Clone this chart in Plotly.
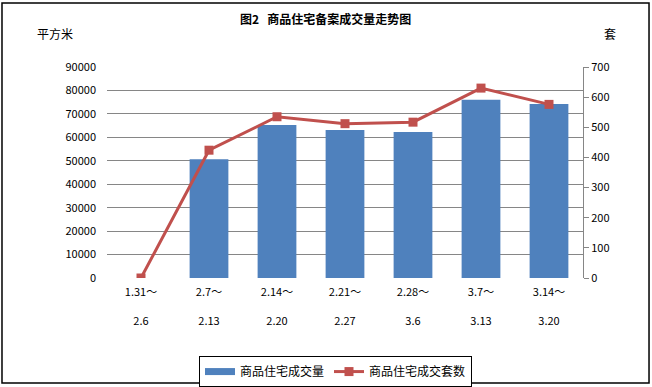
import plotly.graph_objects as go

categories = ["1.31～<br><br>2.6", "2.7～<br><br>2.13", "2.14～<br><br>2.20", "2.21～<br><br>2.27",
              "2.28～<br><br>3.6", "3.7～<br><br>3.13", "3.14～<br><br>3.20"]
area_values = [0, 50700, 65300, 63100, 62300, 76000, 74200]
units_values = [0, 424, 535, 512, 517, 630, 576]
left_ticks = [0, 10000, 20000, 30000, 40000, 50000, 60000, 70000, 80000, 90000]
right_ticks = [0, 100, 200, 300, 400, 500, 600, 700]

FONT = "SimSun, 'Noto Sans CJK SC', sans-serif"
BLUE = "#4F81BD"
RED = "#C0504D"

fig = go.Figure()
fig.add_trace(go.Bar(x=categories, y=area_values, name="商品住宅成交量",
                     marker=dict(color=BLUE, line=dict(width=0)), yaxis="y",
                     showlegend=False))
# legend entry for the bars drawn as a wide band, like the reference
fig.add_trace(go.Scatter(x=[None], y=[None], name="商品住宅成交量", mode="lines",
                         line=dict(color=BLUE, width=7), yaxis="y"))
fig.add_trace(go.Scatter(x=categories, y=units_values, name="商品住宅成交套数", yaxis="y2",
                         mode="lines+markers",
                         line=dict(color=RED, width=3),
                         marker=dict(symbol="square", size=9, color=RED)))

fig.update_layout(
    width=652, height=387,
    margin=dict(l=107, r=69, t=67, b=109, autoexpand=False),
    paper_bgcolor="white", plot_bgcolor="white",
    font=dict(family=FONT, size=11, color="black"),
    bargap=0.43,
    showlegend=True,
    legend=dict(orientation="h", x=0.48, xanchor="center", y=-0.37, yanchor="top",
                bordercolor="black", borderwidth=1, font=dict(size=12),
                itemwidth=30, tracegroupgap=0),
    xaxis=dict(showgrid=False, showline=False, ticks="", tickfont=dict(size=11),
               tickangle=0, automargin=False, ticklabelstandoff=6),
    yaxis=dict(range=[0, 90000], tickvals=left_ticks, ticktext=[str(v) for v in left_ticks],
               showgrid=True, gridcolor="#868686", gridwidth=1, showline=False,
               zeroline=False, ticklabelstandoff=10, tickfont=dict(size=11),
               automargin=False),
    yaxis2=dict(range=[0, 700], tickvals=right_ticks, overlaying="y", side="right",
                showgrid=False, showline=True, linecolor="#868686", linewidth=1,
                ticks="outside", ticklen=5, tickcolor="#868686", zeroline=False,
                tickfont=dict(size=11), automargin=False),
    annotations=[
        dict(text="<b>图2   商品住宅备案成交量走势图</b>", xref="paper", yref="paper",
             x=0.458, y=1.23, xanchor="center", yanchor="middle", showarrow=False,
             font=dict(size=12)),
        dict(text="平方米", xref="paper", yref="paper", x=-0.109, y=1.161,
             xanchor="center", yanchor="middle", showarrow=False, font=dict(size=12)),
        dict(text="套", xref="paper", yref="paper", x=1.057, y=1.161,
             xanchor="center", yanchor="middle", showarrow=False, font=dict(size=12)),
    ],
    shapes=[dict(type="rect", xref="paper", yref="paper", x0=-0.2206, x1=1.1387,
                 y0=-0.4976, y1=1.303, line=dict(color="black", width=1.5),
                 fillcolor="rgba(0,0,0,0)", layer="below")],
)

fig.write_html("out.html", config={"displayModeBar": False},
               post_script="document.body.style.margin='0';document.body.style.overflow='hidden';")
